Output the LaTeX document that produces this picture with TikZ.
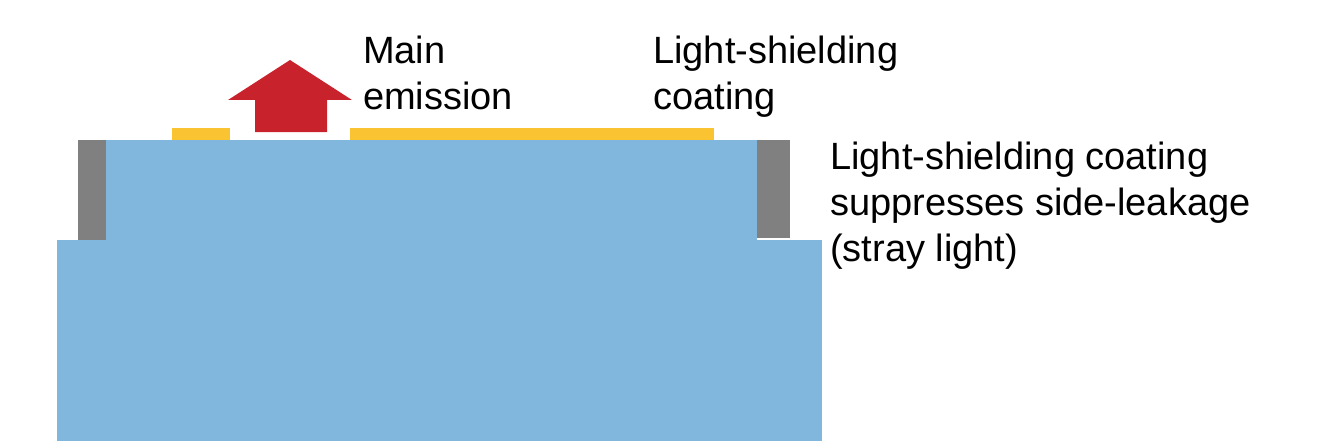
\documentclass[tikz,border=0pt]{standalone}
\usepackage{fontspec}
\setmainfont{Liberation Sans}
\begin{document}
\begin{tikzpicture}[x=1pt,y=-1pt,
 blk/.style={fill=blue1,draw=none},
 lbl/.style={anchor=north west,inner sep=0pt,align=left,font=\fontsize{38}{46}\selectfont}]
\definecolor{blue1}{RGB}{129,183,220}
\definecolor{gray1}{RGB}{128,128,128}
\definecolor{yel}{RGB}{250,195,50}
\definecolor{red1}{RGB}{200,35,45}
\useasboundingbox (0,0) rectangle (1321,441);
\fill[blue1] (57,240) rectangle (822,441);
\fill[blue1] (106,140) rectangle (757,240);
\fill[gray1] (78,140) rectangle (106,240);
\fill[gray1] (757,140) rectangle (790,238);
\fill[yel] (172,128) rectangle (230,140);
\fill[yel] (350,128) rectangle (714,140);
\fill[red1] (255,132) -- (255,100) -- (228,100) -- (290,60) -- (352,100) -- (327,100) -- (327,132) -- cycle;
\node[lbl] (me) at (363,36) {Main\\emission};
\node[lbl] (lc) at (653,36) {Light-shielding\\coating};
\node[lbl] (sl) at (830,142) {Light-shielding coating\\suppresses side-leakage\\(stray light)};
\end{tikzpicture}
\end{document}
